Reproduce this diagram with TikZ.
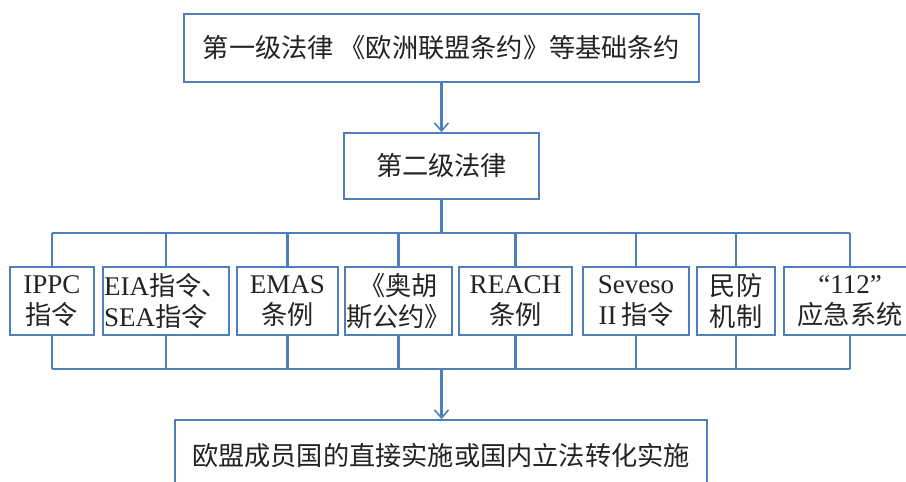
\documentclass[tikz,border=0pt]{standalone}
\usepackage{fontspec}
\setmainfont{Liberation Serif}
\newfontfamily\cjk[Scale=0.97]{Noto Sans CJK SC}
\usetikzlibrary{arrows.meta}
\definecolor{linec}{RGB}{79,127,187}
\definecolor{txtc}{RGB}{35,35,35}
\tikzset{
  box/.style={draw=linec, line width=1.8pt, fill=white, inner sep=0pt, align=center, text=txtc,
    font=\fontsize{27}{31}\selectfont},
  rowbox/.style={box, minimum height=68pt},
  conn/.style={draw=linec, line width=2.2pt},
  arr/.style={conn, -{Straight Barb[length=8pt, width=14pt, line width=1.6pt]}}
}
\begin{document}
\begin{tikzpicture}[x=1pt, y=-1pt]
\useasboundingbox (0,0) rectangle (906,482);
\clip (0,0) rectangle (906,482);
\fill[white] (0,0) rectangle (906,482);

\node[box, minimum width=515pt, minimum height=68pt] (top) at (441.5,48) {\cjk 第一级法律 《欧洲联盟条约》等基础条约};
\node[box, minimum width=195pt, minimum height=66pt] (sec) at (441.5,166) {\cjk 第二级法律};

\node[rowbox, minimum width=84pt]  (b1) at (52,301)    {IPPC\\{\cjk 指令}};
\node[rowbox, minimum width=126pt, align=left] (b2) at (166,301) {EIA{\cjk 指令、}\\SEA{\cjk 指令}};
\node[rowbox, minimum width=101pt] (b3) at (287.5,301) {EMAS\\{\cjk 条例}};
\node[rowbox, minimum width=107pt] (b4) at (398.5,301) {\cjk 《奥胡\\\cjk 斯公约》};
\node[rowbox, minimum width=113pt] (b5) at (515.5,301) {REACH\\{\cjk 条例}};
\node[rowbox, minimum width=106pt] (b6) at (636,301)   {Seveso\\II\,{\cjk 指令}};
\node[rowbox, minimum width=78pt]  (b7) at (736,301)   {\cjk 民防\\\cjk 机制};
\node[rowbox, minimum width=132pt] (b8) at (850,301)   {“112”\\{\cjk 应急系统}};

\node[box, minimum width=532pt, minimum height=72pt] (bot) at (441,456) {\cjk 欧盟成员国的直接实施或国内立法转化实施};

\coordinate (ub) at (441.5,233);
\coordinate (lb) at (441.5,369);

\draw[arr] (top.south) -- (sec.north);
\draw[conn] (sec.south) -- (ub);
\draw[conn] (b1.north |- ub) -- (b8.north |- ub);
\draw[conn] (b1.south |- lb) -- (b8.south |- lb);
\foreach \b in {b1,b2,b3,b4,b5,b6,b7,b8}{
  \draw[conn] (\b.north |- ub) -- (\b.north);
  \draw[conn] (\b.south) -- (\b.south |- lb);
}
\draw[arr] (lb) -- (bot.north -| lb);
\end{tikzpicture}
\end{document}
